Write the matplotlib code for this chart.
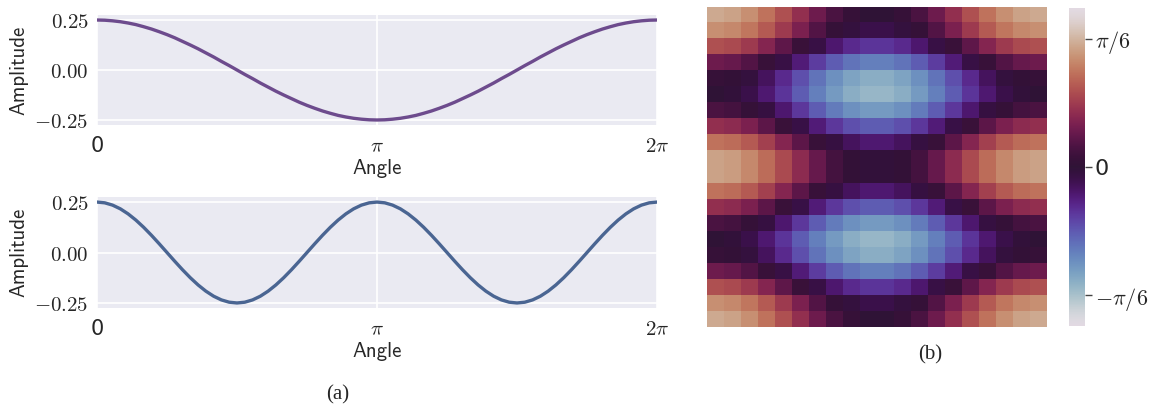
import numpy as np
import matplotlib.pyplot as plt
import seaborn as sns

sns.set_style("darkgrid")
plt.rcParams["font.family"] = ["DejaVu Sans"]
plt.rcParams["mathtext.fontset"] = "cm"

# sample angles every 5 degrees, and the two waves
angle_deg = np.arange(0, 361, 5)
wave_top = [0.25, 0.249, 0.246, 0.2415, 0.235, 0.227, 0.2165, 0.205, 0.1915, 0.177,
            0.161, 0.143, 0.125, 0.106, 0.0855, 0.065, 0.043, 0.022, 0.0,
            -0.022, -0.043, -0.065, -0.0855, -0.106, -0.125, -0.143, -0.161, -0.177,
            -0.1915, -0.205, -0.2165, -0.227, -0.235, -0.2415, -0.246, -0.249, -0.25,
            -0.249, -0.246, -0.2415, -0.235, -0.227, -0.2165, -0.205, -0.1915, -0.177,
            -0.161, -0.143, -0.125, -0.106, -0.0855, -0.065, -0.043, -0.022, 0.0,
            0.022, 0.043, 0.065, 0.0855, 0.106, 0.125, 0.143, 0.161, 0.177,
            0.1915, 0.205, 0.2165, 0.227, 0.235, 0.2415, 0.246, 0.249, 0.25]
wave_bottom = [0.25, 0.2462, 0.2349, 0.2165, 0.1915, 0.1607, 0.125, 0.0855, 0.0434, 0.0,
               -0.0434, -0.0855, -0.125, -0.1607, -0.1915, -0.2165, -0.2349, -0.2462, -0.25,
               -0.2462, -0.2349, -0.2165, -0.1915, -0.1607, -0.125, -0.0855, -0.0434, 0.0,
               0.0434, 0.0855, 0.125, 0.1607, 0.1915, 0.2165, 0.2349, 0.2462, 0.25,
               0.2462, 0.2349, 0.2165, 0.1915, 0.1607, 0.125, 0.0855, 0.0434, 0.0,
               -0.0434, -0.0855, -0.125, -0.1607, -0.1915, -0.2165, -0.2349, -0.2462, -0.25,
               -0.2462, -0.2349, -0.2165, -0.1915, -0.1607, -0.125, -0.0855, -0.0434, 0.0,
               0.0434, 0.0855, 0.125, 0.1607, 0.1915, 0.2165, 0.2349, 0.2462, 0.25]

# heatmap: cell value = row level + column level (20 x 20 cells)
col_levels = [0.25, 0.236, 0.197, 0.137, 0.061, -0.021, -0.1, -0.169, -0.22, -0.247,
              -0.247, -0.22, -0.169, -0.1, -0.021, 0.061, 0.137, 0.197, 0.236, 0.25]
row_levels = [0.25, 0.197, 0.061, -0.1, -0.22, -0.247, -0.169, -0.021, 0.137, 0.236,
              0.236, 0.137, -0.021, -0.169, -0.247, -0.22, -0.1, 0.061, 0.197, 0.25]
cbar_ticks = [-np.pi / 6, 0, np.pi / 6]
cbar_labels = [r"$-\pi/6$", "0", r"$\pi/6$"]

x_ticks = [0, np.pi, 2 * np.pi]
x_labels = ["0", r"$\pi$", r"$2\pi$"]
y_ticks = [-0.25, 0.0, 0.25]
y_labels = [r"$-0.25$", r"$0.00$", r"$0.25$"]

fig = plt.figure(figsize=(11.6, 4.09), dpi=100)

ax1 = fig.add_axes([0.0836, 0.6944, 0.4828, 0.2689])
ax2 = fig.add_axes([0.0836, 0.2469, 0.4828, 0.2714])

x = np.deg2rad(angle_deg)
for ax, y, c in [(ax1, wave_top, "#6d4b8d"), (ax2, wave_bottom, "#4a6592")]:
    ax.plot(x, y, color=c, lw=2.4)
    ax.set_xlim(0, 2 * np.pi)
    ax.set_ylim(-0.275, 0.275)
    ax.set_xticks(x_ticks)
    ax.set_xticklabels(x_labels, fontsize=15)
    ax.set_yticks(y_ticks)
    ax.set_yticklabels(y_labels, fontsize=15)
    ax.tick_params(axis="x", pad=8, length=0)
    ax.tick_params(axis="y", pad=6, length=0)
    ax.grid(color="white", lw=1.2)
    ax.set_xlabel("Angle", family="cmss10", fontsize=15, labelpad=2)
    ax.set_ylabel("Amplitude", family="cmss10", fontsize=15, labelpad=4)
    for s in ax.spines.values():
        s.set_visible(False)

ax3 = fig.add_axes([0.6095, 0.2005, 0.2931, 0.7824])
grid = np.add.outer(np.array(row_levels), np.array(col_levels))
im = ax3.imshow(grid, cmap="twilight", vmin=-0.65, vmax=0.65, aspect="auto",
                interpolation="nearest")
ax3.set_xticks([])
ax3.set_yticks([])
ax3.grid(False)
for s in ax3.spines.values():
    s.set_visible(False)

cax = fig.add_axes([0.9216, 0.2029, 0.0138, 0.7775])
cb = fig.colorbar(im, cax=cax, ticks=cbar_ticks)
cb.set_ticklabels(cbar_labels)
cb.outline.set_visible(False)
cax.tick_params(length=5, width=1, color="#444444", labelsize=16, pad=2)

fig.text(338 / 1160, 1 - 395 / 409, "(a)", ha="center", va="center",
         family="Liberation Serif", fontsize=15)
fig.text(930 / 1160, 1 - 355 / 409, "(b)", ha="center", va="center",
         family="Liberation Serif", fontsize=15)

fig.savefig("out.png", dpi=100)
